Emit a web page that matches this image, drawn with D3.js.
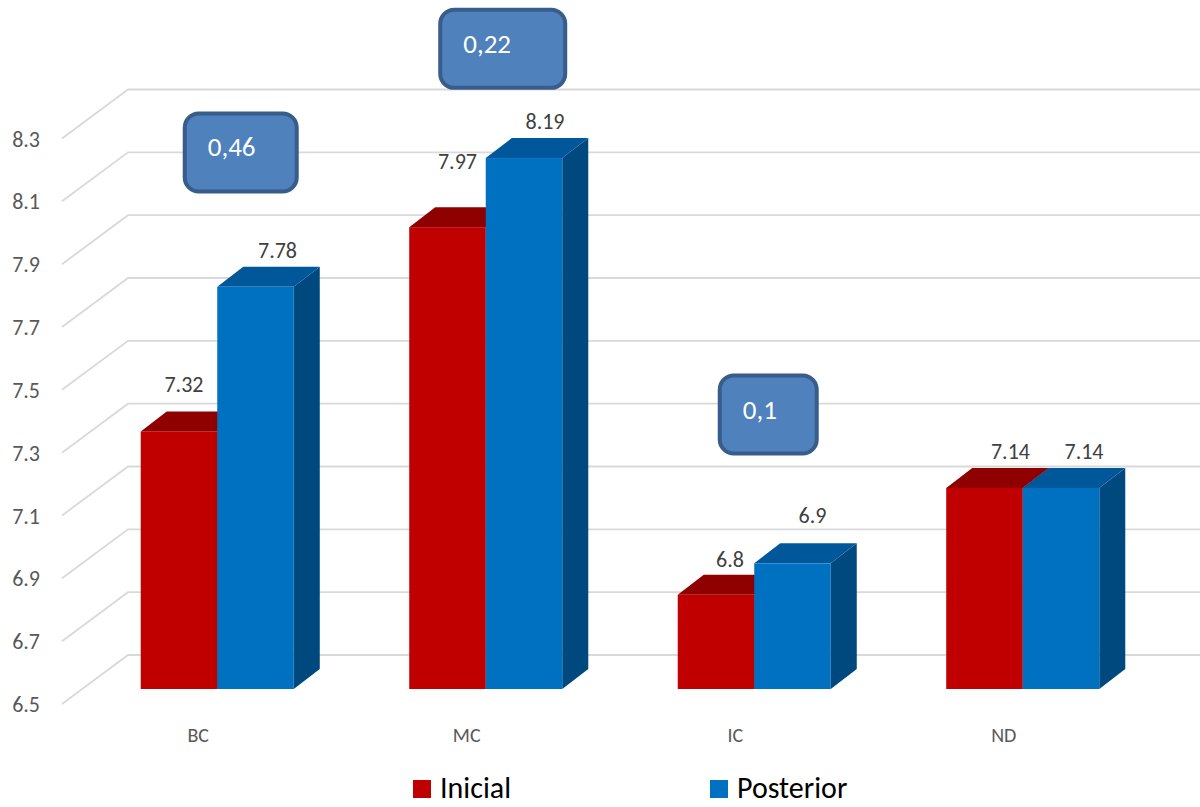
<!DOCTYPE html>
<html>
<head>
<meta charset="utf-8">
<script src="https://cdn.jsdelivr.net/npm/d3@7"></script>
<style>
  html, body { margin: 0; padding: 0; background: #fff; }
  svg { display: block; font-family: Calibri, Carlito, Lato, sans-serif; }
</style>
</head>
<body>
<svg id="chart"></svg>
<script>
// chart values
const categories = ['BC', 'MC', 'IC', 'ND'];
const seriesNames = ['Inicial', 'Posterior'];
const inicial = [7.32, 7.97, 6.8, 7.14];
const posterior = [7.78, 8.19, 6.9, 7.14];
const yTicks = [6.5, 6.7, 6.9, 7.1, 7.3, 7.5, 7.7, 7.9, 8.1, 8.3];
// callouts show the gain between the two series
const calloutCats = ['BC', 'MC', 'IC'];

const width = 1200, height = 807;
const colors = {
  Inicial: {front: '#c00000', top: '#8f0000', side: '#7a0000'},
  Posterior: {front: '#0070c0', top: '#00589a', side: '#00497f'}
};

// 3d offsets
const wall = {dx: 66, dy: 49};   // front edge of the wall vs back wall
const barFront = 34;             // bar front plane below back wall
const depth = {dx: 26, dy: 20};  // bar depth

const svg = d3.select('#chart')
    .attr('width', width)
    .attr('height', height);

svg.append('rect')
    .attr('width', width)
    .attr('height', height)
    .attr('fill', '#fff');

// y scale on the back wall
const yScale = d3.scaleLinear()
    .domain([6.5, 8.3])
    .range([655, 89.5]);

const xScale = d3.scaleBand()
    .domain(categories)
    .range([83, 1157])
    .paddingInner(0.43)
    .paddingOuter(0.215);

const xSeries = d3.scaleBand()
    .domain(seriesNames)
    .range([0, xScale.bandwidth()]);

// gridlines: back wall + side wall diagonal
const backX0 = 128;
const grid = svg.append('g').attr('class', 'grid');
yTicks.forEach(t => {
  const yb = yScale(t);
  grid.append('path')
      .attr('d', `M${backX0 - wall.dx},${yb + wall.dy}L${backX0},${yb}L${width},${yb}`)
      .attr('fill', 'none')
      .attr('stroke', '#d9d9d9')
      .attr('stroke-width', 1.8);
});

// y tick labels
svg.append('g')
    .selectAll('text')
    .data(yTicks)
  .join('text')
    .attr('x', 40)
    .attr('y', d => yScale(d) + wall.dy + 8)
    .attr('text-anchor', 'end')
    .attr('font-size', 22)
    .attr('fill', '#595959')
    .text(d => d3.format('.1f')(d));

// bars
const bars = [];
categories.forEach((c, i) => {
  bars.push({cat: c, series: 'Inicial', value: inicial[i]});
  bars.push({cat: c, series: 'Posterior', value: posterior[i]});
});

const baseY = yScale(6.5) + barFront;
const marks = svg.append('g').attr('class', 'marks');
bars.forEach(d => {
  const x0 = xScale(d.cat) + xSeries(d.series);
  const x1 = x0 + xSeries.bandwidth();
  const yt = yScale(d.value) + barFront;
  const col = colors[d.series];
  const g = marks.append('g');
  g.append('path')
      .attr('d', `M${x1},${yt}L${x1 + depth.dx},${yt - depth.dy}L${x1 + depth.dx},${baseY - depth.dy}L${x1},${baseY}Z`)
      .attr('fill', col.side);
  g.append('path')
      .attr('d', `M${x0},${yt}L${x1},${yt}L${x1 + depth.dx},${yt - depth.dy}L${x0 + depth.dx},${yt - depth.dy}Z`)
      .attr('fill', col.top);
  g.append('rect')
      .attr('x', x0)
      .attr('y', yt)
      .attr('width', x1 - x0)
      .attr('height', baseY - yt)
      .attr('fill', col.front);
});

// data labels (a few were moved by hand in the original)
const labelNudge = [[-15, -10], [2, 0], [-10, -29], [1, 0], [-6, 1], [0, -11], [6, 0], [3, 0]];
svg.append('g')
    .selectAll('text')
    .data(bars)
  .join('text')
    .attr('x', (d, i) => xScale(d.cat) + xSeries(d.series) + xSeries.bandwidth() / 2 + 20 + labelNudge[i][0])
    .attr('y', (d, i) => yScale(d.value) + barFront - depth.dy - 9 + labelNudge[i][1])
    .attr('text-anchor', 'middle')
    .attr('font-size', 22)
    .attr('fill', '#404040')
    .text(d => d.value);

// category labels
svg.append('g')
    .selectAll('text')
    .data(categories)
  .join('text')
    .attr('x', d => xScale(d) + xScale.bandwidth() / 2 - 19)
    .attr('y', 742)
    .attr('text-anchor', 'middle')
    .attr('font-size', 20)
    .attr('fill', '#595959')
    .text(d => d);

// callout boxes with the difference
const fmtComma = d3.formatLocale({decimal: ',', thousands: '.', grouping: [3], currency: ['', '']}).format('.2~f');
const calloutTop = [8.23, 8.56, 7.396];
const calloutLeft = [42, 29, 40];
const calloutW = [116, 129, 101];
const callouts = svg.append('g').attr('class', 'callouts');
calloutCats.forEach((c, k) => {
  const i = categories.indexOf(c);
  const diff = posterior[i] - inicial[i];
  const bx = xScale(c) + calloutLeft[k];
  const by = yScale(calloutTop[k]);
  callouts.append('rect')
      .attr('x', bx + 2)
      .attr('y', by + 2)
      .attr('width', calloutW[k] - 4)
      .attr('height', 78)
      .attr('rx', 14)
      .attr('fill', '#4f81bd')
      .attr('stroke', '#385d8a')
      .attr('stroke-width', 4);
  callouts.append('text')
      .attr('x', bx + 25)
      .attr('y', by + 45)
      .attr('font-size', 27)
      .attr('fill', '#fff')
      .text(fmtComma(diff));
});

// legend
const legend = svg.append('g')
    .attr('transform', 'translate(413,780)');
seriesNames.forEach((s, i) => {
  const g = legend.append('g').attr('transform', `translate(${i * 297},0)`);
  g.append('rect')
      .attr('width', 18)
      .attr('height', 18)
      .attr('fill', colors[s].front);
  g.append('text')
      .attr('x', 27)
      .attr('y', 18)
      .attr('font-size', 30)
      .attr('fill', '#000')
      .text(s);
});
</script>
</body>
</html>
